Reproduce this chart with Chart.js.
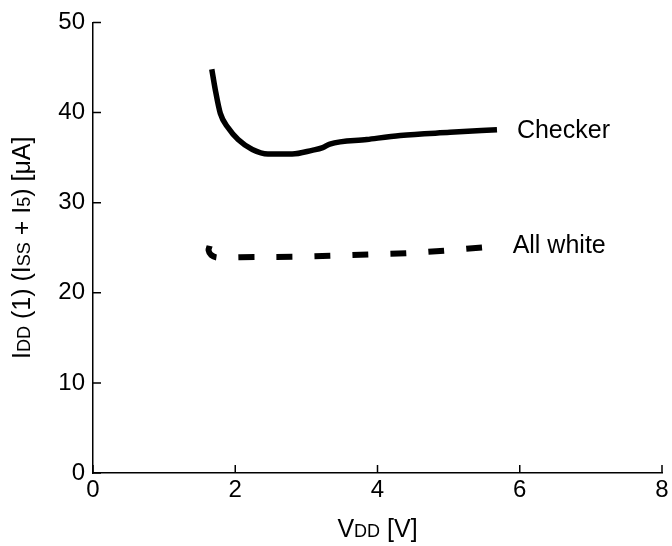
<!DOCTYPE html>
<html>
<head>
<meta charset="utf-8">
<script src="https://cdn.jsdelivr.net/npm/chart.js@4"></script>
<style>
  html, body { margin: 0; padding: 0; background: #fff; }
  #c { display: block; }
</style>
</head>
<body>
<canvas id="c" width="672" height="546"></canvas>
<script>
// values
const checkerX = [1.67, 1.72, 1.79, 1.90, 2.04, 2.24, 2.46, 2.80, 3.08, 3.23, 3.33, 3.85, 4.32, 5.02, 5.68];
const checkerY = [44.8, 42.5, 39.9, 38.3, 37.0, 35.9, 35.4, 35.4, 35.8, 36.1, 36.5, 37.0, 37.45, 37.8, 38.1];
const whiteX = [1.64, 1.625, 1.66, 1.75, 2.07, 2.83, 3.36, 3.90, 4.43, 4.98, 5.50];
const whiteY = [25.2, 24.7, 24.2, 23.9, 23.95, 24.0, 24.1, 24.25, 24.4, 24.7, 25.05];
const xTicks = [0, 2, 4, 6, 8];
const yTicks = [0, 10, 20, 30, 40, 50];
const seriesLabels = [
  { text: 'Checker', x: 5.96, y: 37.9 },
  { text: 'All white', x: 5.90, y: 25.2 }
];
// titles with small-size subscript parts
const yTitle = [['I', 25], ['DD', 18], [' (1) (', 25], ['I', 25], ['SS', 18], [' + ', 25], ['I', 25], ['5', 18], [') [μA]', 25]];
const xTitle = [['V', 25], ['DD', 18], [' [V]', 25]];

const FONT = '"Liberation Sans", Arial, sans-serif';

function pts(xs, ys){ return xs.map((x, i) => ({ x, y: ys[i] })); }

function richWidth(ctx, segs){
  let w = 0;
  segs.forEach(([t, s]) => { ctx.font = s + 'px ' + FONT; w += ctx.measureText(t).width; });
  return w;
}
function drawRich(ctx, segs, cx, baseY){
  let x = cx - richWidth(ctx, segs) / 2;
  ctx.textBaseline = 'alphabetic'; ctx.textAlign = 'left';
  segs.forEach(([t, s]) => { ctx.font = s + 'px ' + FONT; ctx.fillText(t, x, baseY); x += ctx.measureText(t).width; });
}

const extras = {
  id: 'extras',
  afterDraw(chart){
    const { ctx, scales: { x, y } } = chart;
    ctx.save();
    ctx.strokeStyle = '#000'; ctx.lineWidth = 1.5;
    ctx.beginPath();
    xTicks.forEach(v => { const px = x.getPixelForValue(v); ctx.moveTo(px, y.bottom); ctx.lineTo(px, y.bottom - 8); });
    yTicks.forEach(v => { const py = y.getPixelForValue(v); ctx.moveTo(x.left, py); ctx.lineTo(x.left + 8, py); });
    ctx.stroke();

    ctx.fillStyle = '#000';
    ctx.font = '25px ' + FONT; ctx.textAlign = 'left'; ctx.textBaseline = 'middle';
    seriesLabels.forEach(l => ctx.fillText(l.text, x.getPixelForValue(l.x), y.getPixelForValue(l.y)));

    drawRich(ctx, xTitle, (x.left + x.right) / 2, 537);
    ctx.translate(30, (y.top + y.bottom) / 2);
    ctx.rotate(-Math.PI / 2);
    drawRich(ctx, yTitle, 0, 0);
    ctx.restore();
  }
};

new Chart(document.getElementById('c'), {
  type: 'scatter',
  data: {
    datasets: [
      { label: 'Checker', data: pts(checkerX, checkerY), showLine: true, borderColor: '#000', borderWidth: 5.5,
        pointRadius: 0, cubicInterpolationMode: 'monotone', borderCapStyle: 'butt', borderJoinStyle: 'round' },
      { label: 'All white', data: pts(whiteX, whiteY), showLine: true, borderColor: '#000', borderWidth: 6,
        borderDash: [16, 22], pointRadius: 0, tension: 0.4, borderCapStyle: 'butt' }
    ]
  },
  options: {
    responsive: false,
    animation: false,
    devicePixelRatio: 1,
    layout: { padding: { top: 20, right: 10, left: 0, bottom: 0 } },
    plugins: { legend: { display: false }, tooltip: { enabled: false } },
    scales: {
      x: {
        type: 'linear', min: 0, max: 8,
        afterFit: s => { s.height = 73; },
        grid: { display: false, drawTicks: false },
        border: { display: true, color: '#000', width: 1.5 },
        ticks: { stepSize: 2, padding: 3, color: '#000', font: { family: FONT, size: 24 } }
      },
      y: {
        type: 'linear', min: 0, max: 50,
        afterFit: s => { s.width = 93; },
        grid: { display: false, drawTicks: false },
        border: { display: true, color: '#000', width: 1.5 },
        ticks: { stepSize: 10, padding: 8, color: '#000', font: { family: FONT, size: 24 } }
      }
    }
  },
  plugins: [extras]
});
</script>
</body>
</html>
